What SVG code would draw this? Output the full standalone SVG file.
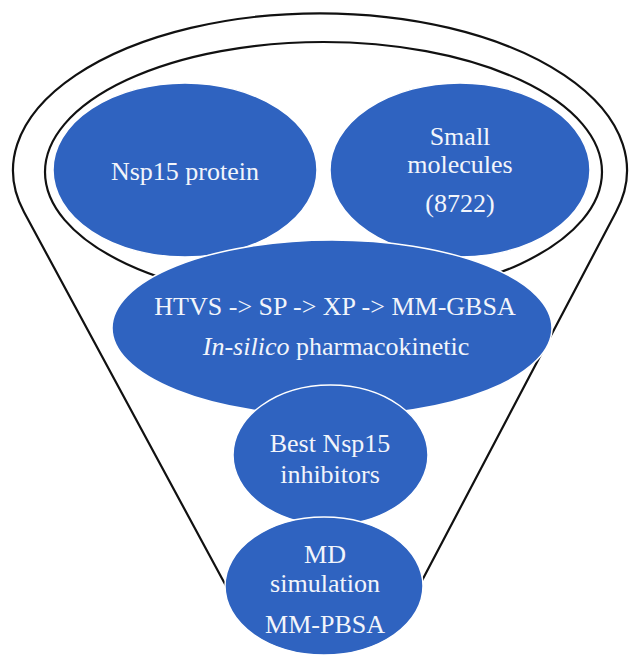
<svg xmlns="http://www.w3.org/2000/svg" width="629" height="657" viewBox="0 0 629 657">
<style>
.line{fill:none;stroke:#111;stroke-width:2.2}
.node{fill:#2f63c0;stroke:#ffffff;stroke-width:1.5}
.t{font-size:26px;fill:#f2f5fb;text-anchor:middle}
</style>
<rect width="629" height="657" fill="#ffffff"/>
<g id="connectors">
<path class="line" d="M 232 597 L 24 212 A 307 157 0 1 1 616 212 L 416 592"/>
<ellipse class="line" cx="323.5" cy="172" rx="278.5" ry="130"/>
</g>
<g font-family="'Liberation Serif', 'Times New Roman', 'DejaVu Serif', serif">
<g id="nsp15">
<ellipse class="node" cx="185" cy="170" rx="132" ry="87"/>
<text class="t" x="185" y="180">Nsp15 protein</text>
</g>
<g id="small-molecules">
<ellipse class="node" cx="460" cy="170" rx="130" ry="87"/>
<text class="t" x="460" y="145">Small</text>
<text class="t" x="460" y="173">molecules</text>
<text class="t" x="460" y="212">(8722)</text>
</g>
<g id="screening">
<ellipse class="node" cx="332" cy="328" rx="220" ry="88"/>
<text class="t" x="335" y="315">HTVS -&gt; SP -&gt; XP -&gt; MM-GBSA</text>
<text class="t" x="336" y="355"><tspan font-style="italic">In-silico</tspan> pharmacokinetic</text>
</g>
<g id="best-inhibitors">
<ellipse class="node" cx="330.5" cy="455" rx="97.5" ry="70"/>
<text class="t" x="330" y="452">Best Nsp15</text>
<text class="t" x="330" y="483">inhibitors</text>
</g>
<g id="md-simulation">
<ellipse class="node" cx="324" cy="586" rx="99" ry="69"/>
<text class="t" x="325" y="563">MD</text>
<text class="t" x="325" y="592">simulation</text>
<text class="t" x="325" y="633">MM-PBSA</text>
</g>
</g>
</svg>
